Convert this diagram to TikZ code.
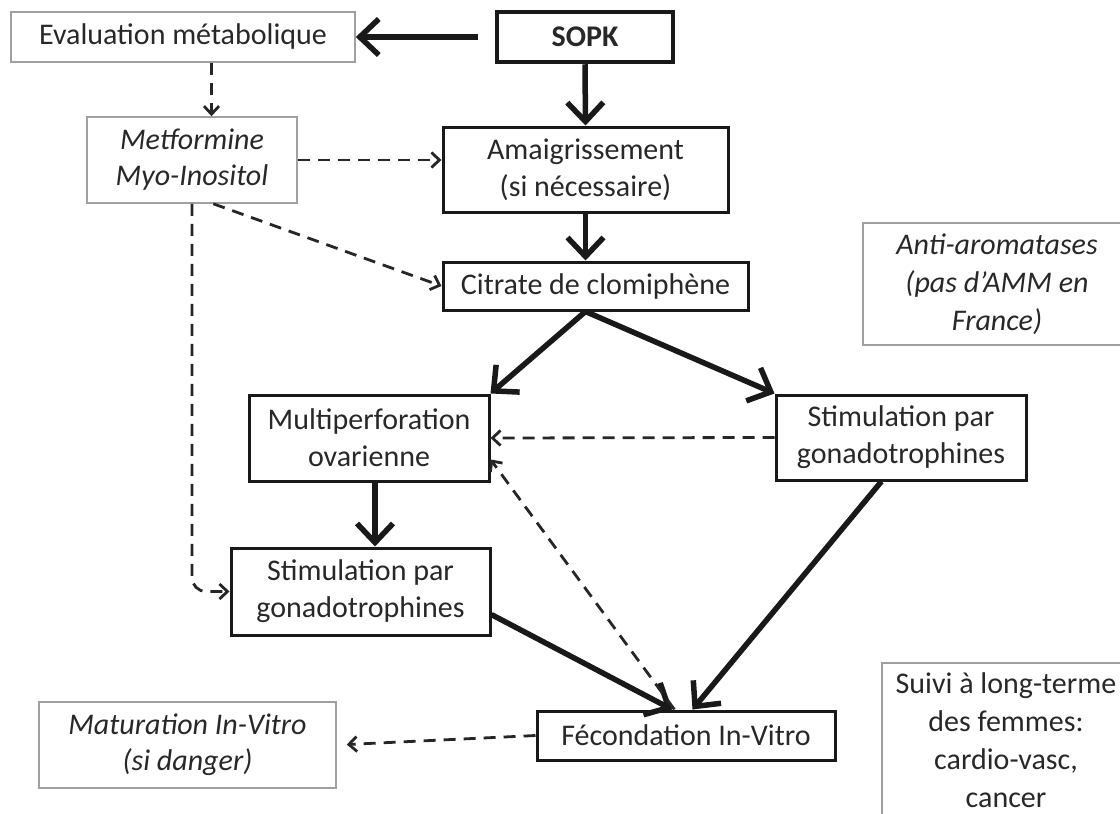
\documentclass[tikz,border=0pt]{standalone}
\usepackage{fontspec}
\setmainfont{Carlito}
\usetikzlibrary{positioning,arrows.meta}
\definecolor{inkgray}{RGB}{40,40,40}
\definecolor{framegray}{RGB}{160,160,160}

\begin{document}
\begin{tikzpicture}[x=1pt,y=-1pt,
    every node/.style={font=\fontsize{30}{37}\selectfont,text=inkgray,align=center,inner sep=0pt},
    stepbox/.style={draw=black!90,line width=3pt,rectangle},
    softbox/.style={draw=framegray,line width=1.6pt,rectangle},
    mainarrow/.style={-{Straight Barb[length=19pt,width=36pt]},line width=5.5pt,black!90},
    optarrow/.style={-{Straight Barb[length=8pt,width=15pt]},line width=2.8pt,dash pattern=on 12pt off 8pt,black!85}]
      \clip (0,0) rectangle (1120,814);
      % top row
      \node[softbox,minimum width=344pt,minimum height=50pt] (eval) at (183,37) {Evaluation métabolique};
      \node[stepbox,line width=4.5pt,minimum width=176pt,minimum height=50pt,font=\fontsize{30}{37}\selectfont\bfseries] (sopk) at (585,37) {SOPK};
      \node[softbox,minimum width=210pt,minimum height=86pt,font=\fontsize{30}{36}\selectfont\itshape] (metf) at (192,160) {Metformine\\ Myo-Inositol};
      \node[stepbox,minimum width=285pt,minimum height=85pt] (amaig) at (585.5,169.5) {Amaigrissement\\ (si nécessaire)};
      \node[stepbox,minimum width=305pt,minimum height=48pt] (citrate) at (595.5,286) {Citrate de clomiphène};
      \node[softbox,minimum width=268pt,minimum height=122pt,font=\fontsize{30}{38}\selectfont\itshape] (anti) at (997,284) {Anti-aromatases\\ (pas d’AMM en\\ France)};
      % middle
      \node[stepbox,minimum width=240pt,minimum height=86pt] (multi) at (369,438) {Multiperforation\\ ovarienne};
      \node[stepbox,minimum width=250pt,minimum height=85pt] (stimR) at (901,437.5) {Stimulation par\\ gonadotrophines};
      \node[stepbox,minimum width=259pt,minimum height=87pt] (stimL) at (360.5,591.5) {Stimulation par\\ gonadotrophines};
      % bottom row
      \node[stepbox,minimum width=298pt,minimum height=49pt] (fiv) at (686,735.5) {Fécondation In-Vitro};
      \node[softbox,minimum width=297pt,minimum height=86pt,font=\fontsize{30}{36}\selectfont\itshape] (mat) at (187.5,745) {Maturation In-Vitro\\ (si danger)};
      \node[softbox,minimum width=248pt,minimum height=154pt,font=\fontsize{30}{38}\selectfont] (suivi) at (1006,740) {Suivi à long-terme\\ des femmes:\\ cardio-vasc,\\ cancer};

      % main path
      \draw[mainarrow,shorten <=17pt] (sopk.west) -- (eval.east);
      \draw[mainarrow] (sopk.south) -- (amaig.north);
      \draw[mainarrow] (amaig.south) -- (citrate.north -| amaig.south);
      \draw[mainarrow] (citrate.south -| amaig.south) -- (multi.north east);
      \draw[mainarrow] (citrate.south -| amaig.south) -- (stimR.north west);
      \draw[mainarrow] (multi.south -| 375,0) -- (stimL.north -| 375,0);
      \draw[mainarrow] (stimL.-10) -- (fiv.118);
      \draw[mainarrow] (stimR.-114) -- (fiv.76);

      % optional paths
      \draw[optarrow] (eval.south -| metf.66) -- (metf.66);
      \draw[optarrow] (metf.east) -- (metf.east -| amaig.west);
      \draw[optarrow] (metf.-64) -- (citrate.west);
      \draw[optarrow,rounded corners=14pt] (metf.south) |- (stimL.west);
      \draw[optarrow] (stimR.west) -- (multi.east);
      \draw[optarrow] (fiv.114) -- (multi.-10);
      \draw[optarrow,shorten >=10pt] (fiv.west) -- (mat.east);
    \end{tikzpicture}
\end{document}
